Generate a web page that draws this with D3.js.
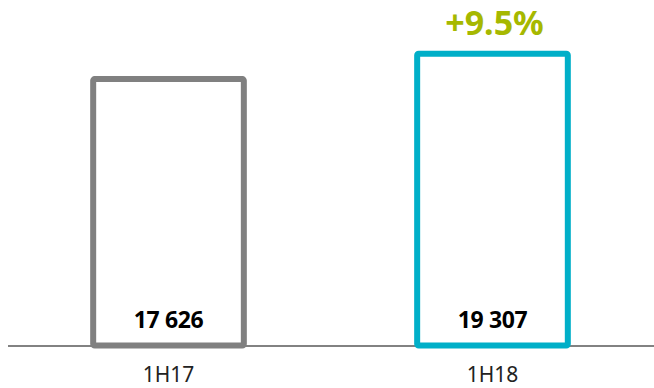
<!DOCTYPE html>
<html>
<head>
<meta charset="utf-8">
<script src="https://cdn.jsdelivr.net/npm/d3@7"></script>
<style>
  html, body { margin: 0; padding: 0; background: #fff; }
  svg { display: block; }
</style>
</head>
<body>
<svg id="chart" width="654" height="388"></svg>
<script>
const categories = ["1H17", "1H18"];
const values = [17626, 19307];
const valueLabels = ["17 626", "19 307"];
const barColors = ["#808080", "#00AFC8"];
const changeLabel = "+9.5%";

const svg = d3.select("#chart");
const W = 654, H = 388;
const baseY = 345.5;

const x = d3.scaleBand()
  .domain(categories)
  .range([7, 654])
  .paddingInner(0.535)
  .paddingOuter(0.266);

const y = d3.scaleLinear()
  .domain([0, 20000])
  .range([baseY, baseY - 302.3]);

// baseline axis
svg.append("line")
  .attr("x1", 8).attr("x2", W)
  .attr("y1", baseY + 0.5).attr("y2", baseY + 0.5)
  .attr("stroke", "#595959")
  .attr("stroke-width", 1.5);

// bars (outlined)
svg.selectAll("rect.bar")
  .data(values)
  .join("rect")
  .attr("class", "bar")
  .attr("x", (d, i) => x(categories[i]))
  .attr("y", d => y(d))
  .attr("width", x.bandwidth())
  .attr("height", d => y(0) - y(d))
  .attr("rx", 1.5)
  .attr("fill", "none")
  .attr("stroke", (d, i) => barColors[i])
  .attr("stroke-width", 6);

// value labels inside bars
svg.selectAll("text.val")
  .data(valueLabels)
  .join("text")
  .attr("class", "val")
  .attr("x", (d, i) => x(categories[i]) + x.bandwidth() / 2)
  .attr("y", 327.5)
  .attr("text-anchor", "middle")
  .attr("font-family", "'Noto Sans', 'Open Sans', sans-serif")
  .attr("font-weight", "bold")
  .attr("font-size", 23)
  .attr("letter-spacing", -0.4)
  .attr("fill", "#000")
  .text(d => d);

// category labels
svg.selectAll("text.cat")
  .data(categories)
  .join("text")
  .attr("class", "cat")
  .attr("x", d => x(d) + x.bandwidth() / 2)
  .attr("y", 382)
  .attr("text-anchor", "middle")
  .attr("font-family", "'Noto Sans', 'Open Sans', sans-serif")
  .attr("font-size", 21)
  .attr("fill", "#222")
  .text(d => d);

// change label
svg.append("text")
  .attr("x", x(categories[1]) + x.bandwidth() / 2 + 2)
  .attr("y", 35)
  .attr("text-anchor", "middle")
  .attr("font-family", "'Noto Sans', 'Open Sans', sans-serif")
  .attr("font-weight", "bold")
  .attr("font-size", 34)
  .attr("fill", "#A6B800")
  .text(changeLabel);
</script>
</body>
</html>
